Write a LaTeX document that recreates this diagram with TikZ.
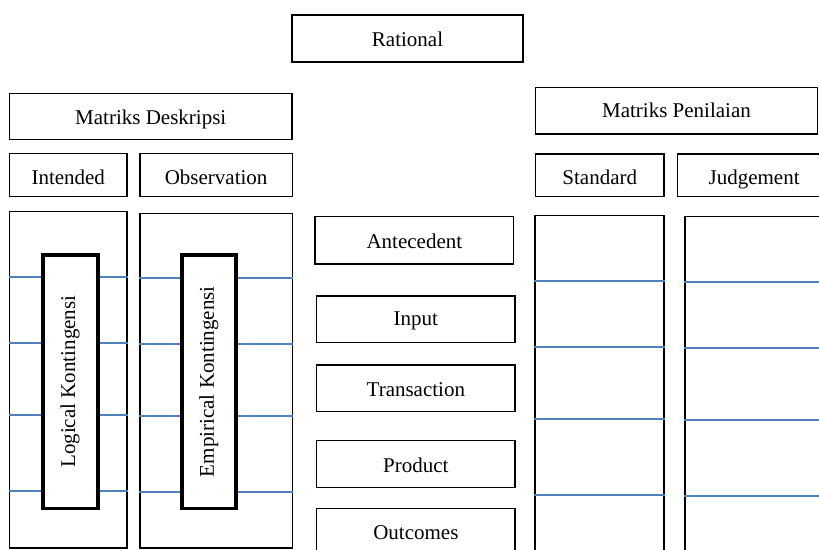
\documentclass[tikz,border=0pt]{standalone}
\usepackage{fontspec}
\setmainfont{Liberation Serif}
\begin{document}
\begin{tikzpicture}[x=1pt,y=-1pt,
  box/.style={draw=black, line width=1.3pt, inner sep=0pt, fill=white,
    text height=16pt, text depth=0pt,
    font=\fontsize{21}{25}\selectfont},
  row/.style={box, text height=18.5pt},
  col/.style={draw=black, line width=1.3pt, inner sep=0pt},
  kbox/.style={draw=black, line width=3.6pt, inner sep=0pt, fill=white,
    rotate=90, font=\fontsize{21}{25}\selectfont},
  bline/.style={draw={rgb,255:red,79;green,129;blue,189}, line width=1.8pt}]
\useasboundingbox (0,0) rectangle (819,549);
\clip (0,0) rectangle (819,549);
% top
\node[box, minimum width=231pt, minimum height=47pt] (rational) at (407.5,38.5) {Rational};
\node[box, minimum width=282.5pt, minimum height=46pt] (mdesk) at (150.75,116.3) {Matriks Deskripsi};
\node[box, minimum width=282pt, minimum height=46.7pt, text height=14pt] (mpen) at (676.5,110.65) {Matriks Penilaian};
\node[row, minimum width=117.5pt, minimum height=43.2pt] (intended) at (68.25,175.1) {Intended};
\node[row, minimum width=152.3pt, minimum height=43.2pt] (observation) at (216.15,175.1) {Observation};
\node[row, minimum width=128.5pt, minimum height=42.7pt] (standard) at (599.75,175.35) {Standard};
\node[row, minimum width=153.7pt, minimum height=42.7pt] (judgement) at (754.15,175.35) {Judgement};
% columns
\node[col, minimum width=117.5pt, minimum height=336.3pt] (col1) at (68.25,379.85) {};
\node[col, minimum width=152.3pt, minimum height=334.7pt] (col2) at (216.15,380.65) {};
\node[col, minimum width=129pt, minimum height=344.7pt] (col3) at (599.5,387.65) {};
\node[col, minimum width=146pt, minimum height=343.3pt] (col4) at (758,388.35) {};
% blue lines
\foreach \y in {276.7,342.7,415,491}
  \draw[bline] (col1.west |- 0,\y) -- (col1.east |- 0,\y);
\foreach \y in {278.3,344.3,416,492.3}
  \draw[bline] (col2.west |- 0,\y) -- (col2.east |- 0,\y);
\foreach \y in {280.7,346.7,419,494.7}
  \draw[bline] (col3.west |- 0,\y) -- (col3.east |- 0,\y);
\foreach \y in {282,348.3,420,496}
  \draw[bline] (col4.west |- 0,\y) -- (col4.east |- 0,\y);
% kontingensi boxes
\node[kbox, minimum width=253.3pt, minimum height=55pt] (logical) at (70.2,381.65) {Logical Kontingensi};
\node[kbox, minimum width=253.3pt, minimum height=54.3pt] (empirical) at (208.85,381.65) {Empirical Kontingensi};
% middle
\node[box, minimum width=198.7pt, minimum height=47.3pt] (antecedent) at (414.35,240.35) {Antecedent};
\node[box, minimum width=198.3pt, minimum height=46.7pt, text height=13pt] (input) at (415.85,319.35) {Input};
\node[box, minimum width=198.3pt, minimum height=46.7pt] (transaction) at (415.85,388.35) {Transaction};
\node[box, minimum width=198.3pt, minimum height=46.7pt] (product) at (415.85,464) {Product};
\node[box, minimum width=198.3pt, minimum height=47pt] (outcomes) at (415.85,531.8) {Outcomes};
\end{tikzpicture}
\end{document}
